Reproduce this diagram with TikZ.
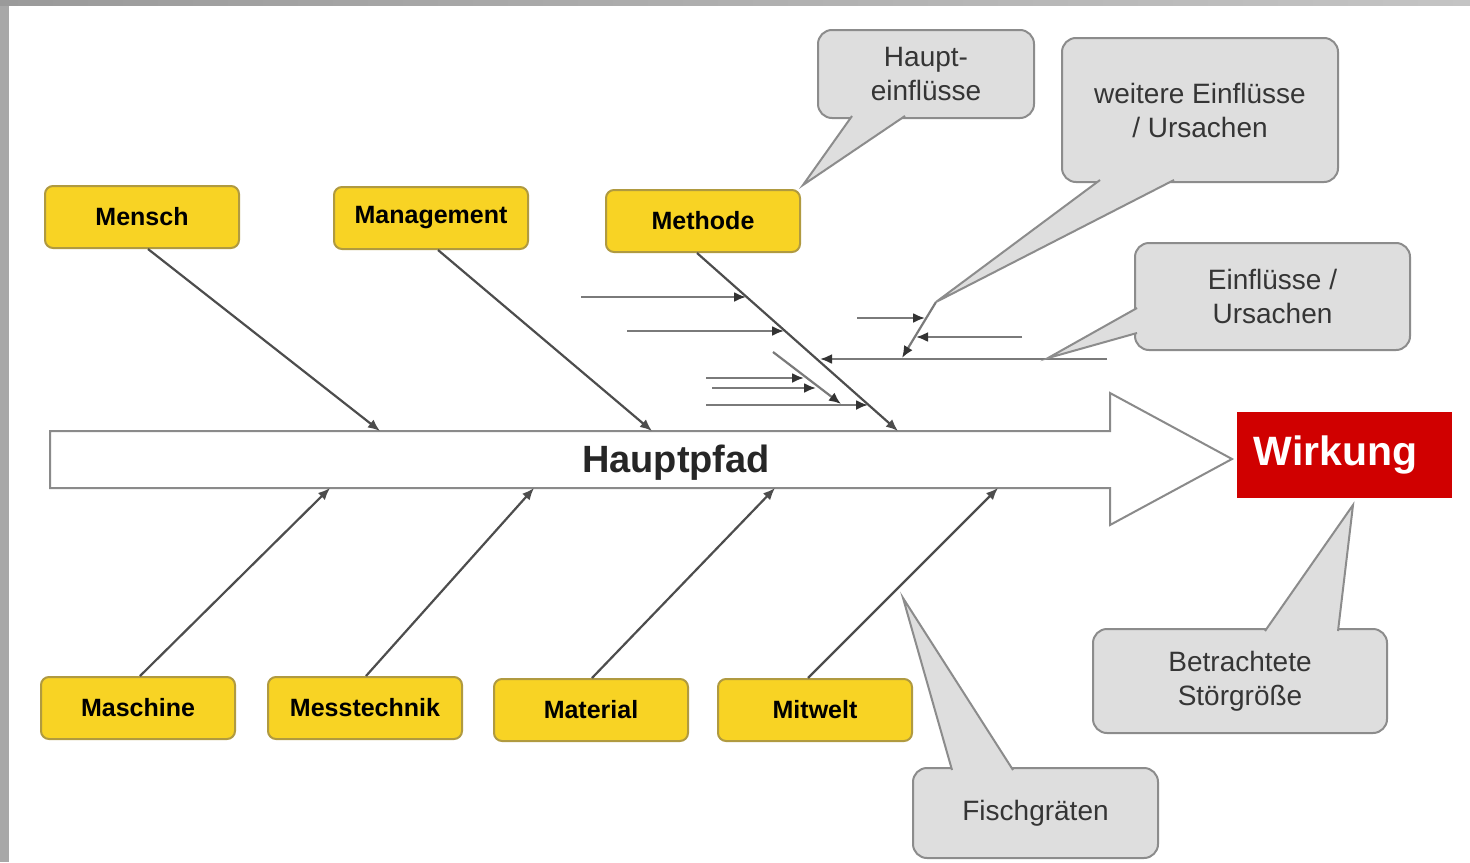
\documentclass[tikz,border=0pt]{standalone}
\usepackage{fontspec}
\setmainfont{Liberation Sans}
\usetikzlibrary{arrows.meta,calc}
\definecolor{frameL}{HTML}{A8A8A8}
\definecolor{frameT}{HTML}{9A9A9A}
\definecolor{frameT2}{HTML}{C4C4C4}
\definecolor{yfill}{HTML}{F8D324}
\definecolor{yborder}{HTML}{B09A40}
\definecolor{cfill}{HTML}{DEDEDE}
\definecolor{cborder}{HTML}{8C8C8C}
\definecolor{bonecol}{HTML}{4D4D4D}
\definecolor{subcol}{HTML}{7A7A7A}
\definecolor{arrowline}{HTML}{8A8A8A}
\definecolor{wred}{HTML}{D00000}
\definecolor{ctext}{HTML}{353535}
\begin{document}
\begin{tikzpicture}[x=0.5pt,y=-0.5pt,
 ybox/.style={draw=yborder, line width=1pt, fill=yfill, rounded corners=4pt,
   minimum width=97pt, minimum height=31pt, inner sep=0pt,
   font=\fontsize{12.5}{14}\selectfont\bfseries},
 cbox/.style={draw=cborder, line width=1pt, fill=cfill, rounded corners=7pt,
   inner sep=0pt, align=center, text=ctext, font=\fontsize{14}{17}\selectfont},
 tail/.style={fill=cfill, draw=cborder, line width=1pt, line join=miter},
 bone/.style={draw=bonecol, line width=1.1pt, -{Latex[length=6pt,width=5pt]}},
 sub/.style={draw=subcol, line width=1.1pt, -{Latex[length=6pt,width=5pt,color=black!80]}},
]
\useasboundingbox (0,0) rectangle (1470,862);
% background and frame
\fill[white] (0,0) rectangle (1470,862);
\fill[frameL] (0,0) rectangle (9,862);
\shade[left color=frameT, right color=frameT2] (0,0) rectangle (1470,5);

% main path arrow
\draw[draw=arrowline, line width=1pt, fill=white, line join=miter]
  (50,431) -- (1110,431) -- (1110,393) -- (1232,459) -- (1110,525)
  -- (1110,488) -- (50,488) -- cycle;
\node[font=\fontsize{19}{22}\selectfont\bfseries, text=black!85] (pfad) at (676,463) {Hauptpfad};

% effect
\node[fill=wred, minimum width=107.5pt, minimum height=43pt, inner sep=0pt,
  text=white, font=\fontsize{20.5}{24}\selectfont\bfseries] (wirkung) at (1344.5,455) {\kern-9pt Wirkung};

% main causes
\node[ybox] (mensch) at (142,217) {Mensch};
\node[ybox] (management) at (431,218) {Management};
\node[ybox] (methode) at (703,221) {Methode};
\node[ybox] (maschine) at (138,708) {Maschine};
\node[ybox] (messtechnik) at (365,708) {Messtechnik};
\node[ybox] (material) at (591,710) {Material};
\node[ybox] (mitwelt) at (815,710) {Mitwelt};

% bone ends on the main arrow
\coordinate (eMensch) at (380,431);
\coordinate (eManagement) at (652,431);
\coordinate (eMethode) at (898,431);
\coordinate (eMaschine) at (330,488);
\coordinate (eMesstechnik) at (534,488);
\coordinate (eMaterial) at (775,488);
\coordinate (eMitwelt) at (998,488);

\draw[bone] ($(mensch.south)+(6,0)$) -- (eMensch);
\draw[bone] ($(management.south)+(7,0)$) -- (eManagement);
\draw[bone] ($(methode.south)+(-6,0)$) -- (eMethode);
\draw[bone] ($(maschine.north)+(2,0)$) -- (eMaschine);
\draw[bone] ($(messtechnik.north)+(1,0)$) -- (eMesstechnik);
\draw[bone] ($(material.north)+(1,0)$) -- (eMaterial);
\draw[bone] ($(mitwelt.north)+(-7,0)$) -- (eMitwelt);

% sub causes on Methode bone
\coordinate (a0) at (581,297);  \coordinate (a1) at (746,297);
\coordinate (b0) at (627,331);  \coordinate (b1) at (784,331);
\coordinate (c0) at (1107,359); \coordinate (c1) at (820,359);
\coordinate (d0) at (773,352);  \coordinate (d1) at (841,404);
\coordinate (e0) at (706,378);  \coordinate (e1) at (804,378);
\coordinate (f0) at (712,388);  \coordinate (f1) at (816,388);
\coordinate (g0) at (706,405);  \coordinate (g1) at (868,405);
\coordinate (h0) at (936,302);  \coordinate (h1) at (902,358);
\coordinate (i0) at (857,318);  \coordinate (i1) at (925,318);
\coordinate (j0) at (1022,337); \coordinate (j1) at (916,337);
\draw[sub] (a0) -- (a1);
\draw[sub] (b0) -- (b1);
\draw[sub] (c0) -- (c1);
\draw[sub] (d0) -- (d1);
\draw[sub] (e0) -- (e1);
\draw[sub] (f0) -- (f1);
\draw[sub] (g0) -- (g1);
\draw[sub] (h0) -- (h1);
\draw[sub] (i0) -- (i1);
\draw[sub] (j0) -- (j1);

% callouts
\node[cbox, minimum width=108pt, minimum height=44pt] (hc) at (926,74) {Haupt-\\einflüsse};
\coordinate (hcTip) at (803,185);
\filldraw[tail] (852,116) -- (hcTip) -- (905,116);

\node[cbox, minimum width=138pt, minimum height=72pt] (wc) at (1200,110) {weitere Einflüsse\\/ Ursachen};
\filldraw[tail] (1100,180) -- (h0) -- (1174,180);

\node[cbox, minimum width=137.5pt, minimum height=53.5pt] (ec) at (1272.5,296.5) {Einflüsse /\\Ursachen};
\coordinate (ecTip) at (1048,358);
\filldraw[tail] (1137,308) -- (ecTip) -- (1137,333);

\node[cbox, minimum width=147pt, minimum height=52pt] (bc) at (1240,681) {Betrachtete\\Störgröße};
\coordinate (bcTip) at (1353,505);
\filldraw[tail] (1265,631) -- (bcTip) -- (1338,631);

\node[cbox, minimum width=122.5pt, minimum height=45pt] (fc) at (1035.5,813) {Fischgräten};
\coordinate (fcTip) at (903,598);
\filldraw[tail] (952,770) -- (fcTip) -- (1013,770);
\end{tikzpicture}
\end{document}
